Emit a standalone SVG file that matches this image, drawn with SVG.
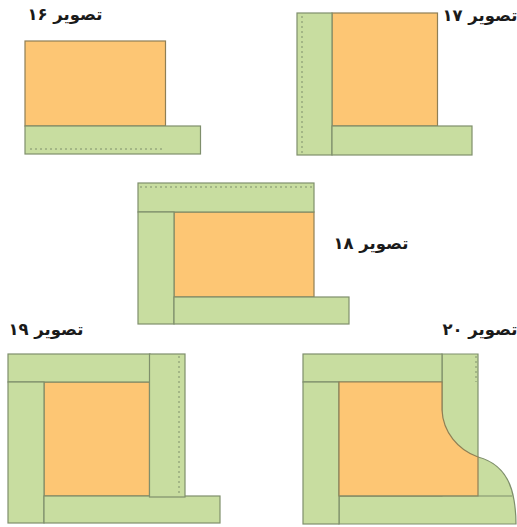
<svg xmlns="http://www.w3.org/2000/svg" width="517" height="527" viewBox="0 0 517 527">
<style>
.g{fill:#c8dda0;stroke:#7f8f6c;stroke-width:1.2}
.o{fill:#fdc674;stroke:#8f7f55;stroke-width:1.2}
.d{fill:none;stroke:#7f8f6c;stroke-width:1;stroke-dasharray:2 3}
.t{font-family:"DejaVu Sans",sans-serif;font-weight:bold;font-size:16.500px;fill:#1a1a1a;text-anchor:middle;direction:rtl}
</style>
<rect width="517" height="527" fill="#fff"/>
<g id="fig16">
<rect class="o" x="25" y="41" width="140.500" height="85"/>
<rect class="g" x="25" y="126" width="175.500" height="28"/>
<path class="d" d="M30 149H163"/>
<text class="t" x="65" y="20">تصویر ۱۶</text>
</g>
<g id="fig17">
<rect class="o" x="332" y="13" width="105.500" height="113"/>
<rect class="g" x="297" y="13" width="35" height="142"/>
<rect class="g" x="332" y="126" width="140" height="29"/>
<path class="d" d="M302 16V154"/>
<text class="t" x="480" y="21">تصویر ۱۷</text>
</g>
<g id="fig18">
<rect class="o" x="174" y="212" width="140" height="85"/>
<rect class="g" x="138" y="183" width="176" height="29"/>
<rect class="g" x="138" y="212" width="36" height="112"/>
<rect class="g" x="174" y="297" width="175" height="27"/>
<path class="d" d="M140 187H313"/>
<text class="t" x="371" y="249">تصویر ۱۸</text>
</g>
<g id="fig19">
<rect class="o" x="44" y="382" width="105.500" height="114"/>
<rect class="g" x="8" y="354" width="142" height="28"/>
<rect class="g" x="8" y="382" width="36" height="141"/>
<rect class="g" x="44" y="496" width="176" height="27"/>
<rect class="g" x="149.500" y="354" width="35.500" height="143"/>
<path class="d" d="M179 356V496"/>
<text class="t" x="46" y="335">تصویر ۱۹</text>
</g>
<g id="fig20">
<path class="g" d="M442 354H478V457C497 462 510 475 514 500Q516 512 516 524H339V496H442Z"/>
<rect class="g" x="303" y="354" width="139" height="28"/>
<rect class="g" x="303" y="382" width="36" height="142"/>
<path class="o" d="M339 382H442V410C443 432 458 450 478 457V496H339Z"/>
<path class="g" style="fill:none" d="M339 496H512"/>
<path class="d" d="M476 356V382"/>
<text class="t" x="480" y="335">تصویر ۲۰</text>
</g>
</svg>
